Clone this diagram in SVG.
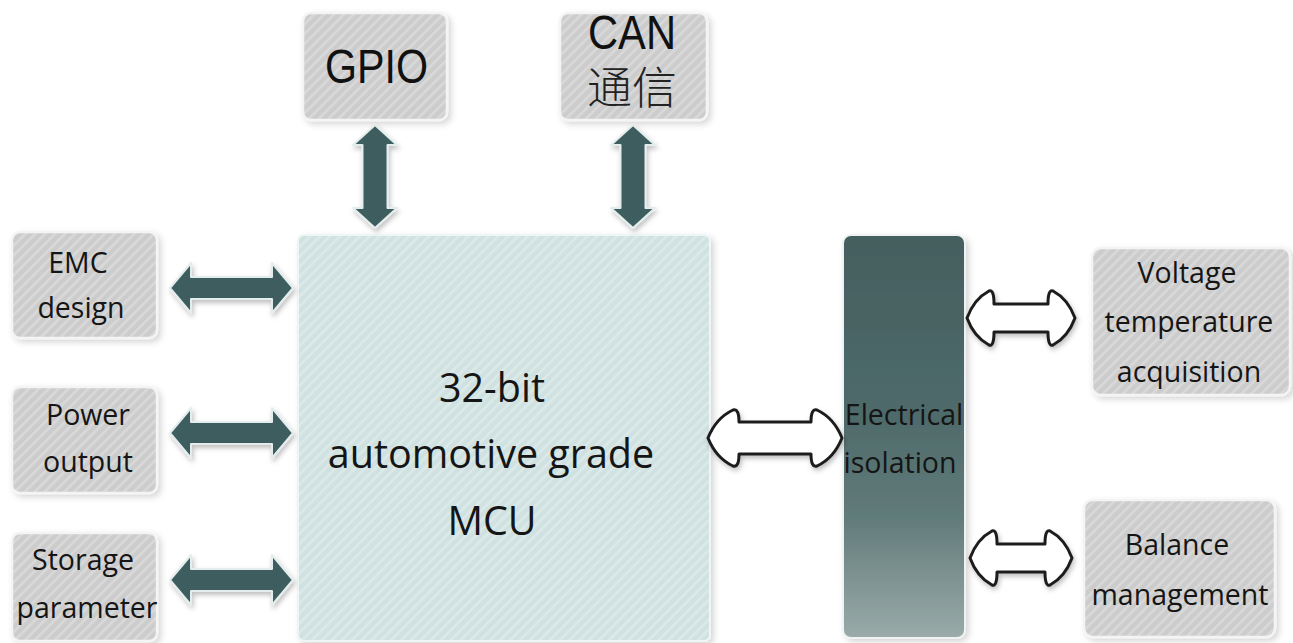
<svg xmlns="http://www.w3.org/2000/svg" width="1293" height="643" viewBox="0 0 1293 643">
  <defs>
    <pattern id="grayStripes" patternUnits="userSpaceOnUse" width="7" height="7" patternTransform="rotate(45)">
      <rect width="7" height="7" fill="#cccccc"/>
      <rect x="0" y="0" width="2.6" height="7" fill="#d9d9d9"/>
    </pattern>
    <pattern id="tealStripes" patternUnits="userSpaceOnUse" width="7" height="7" patternTransform="rotate(45)">
      <rect width="7" height="7" fill="#cfe2e1"/>
      <rect x="0" y="0" width="2.6" height="7" fill="#dce9e8"/>
    </pattern>
    <linearGradient id="isoGrad" x1="0" y1="0" x2="0" y2="1">
      <stop offset="0" stop-color="#445e5f"/>
      <stop offset="0.45" stop-color="#4f6a6a"/>
      <stop offset="0.7" stop-color="#617b7a"/>
      <stop offset="1" stop-color="#9aaba9"/>
    </linearGradient>
    <filter id="boxShadow" x="-10%" y="-10%" width="125%" height="125%">
      <feDropShadow dx="3" dy="3" stdDeviation="3" flood-color="#000" flood-opacity="0.16"/>
    </filter>
    <filter id="arrowShadow" x="-20%" y="-30%" width="140%" height="170%">
      <feDropShadow dx="1.5" dy="3" stdDeviation="2.5" flood-color="#000" flood-opacity="0.25"/>
    </filter>
  </defs>
  <style>
    .gbox { fill: url(#grayStripes); stroke: #f4f4f4; stroke-width: 2.5; filter: url(#boxShadow); }
    .lbl { font-family: "Open Sans", "Noto Sans", sans-serif; font-size: 28.5px; fill: #151515; text-anchor: middle; }
    .big { font-family: "Open Sans", "Noto Sans", sans-serif; font-size: 39.5px; fill: #151515; text-anchor: middle; }
    .arial { font-family: "Liberation Sans", Arial, sans-serif; font-size: 48px; fill: #111; }
    .cjk { font-family: "Noto Sans CJK SC", "Noto Sans CJK JP", sans-serif; font-size: 44px; font-weight: 300; fill: #222; }
    .darr { fill: #3e5d5e; stroke: #e4eded; stroke-width: 2; stroke-linejoin: round; filter: url(#arrowShadow); }
    .oarr { fill: #ffffff; stroke: #1e1e1e; stroke-width: 3; stroke-linejoin: round; filter: url(#arrowShadow); }
  </style>

  <rect width="1293" height="643" fill="#ffffff"/>

  <g id="gpio">
    <rect class="gbox" x="303" y="13" width="144" height="107" rx="8"/>
    <text class="arial" x="325" y="83" textLength="103" lengthAdjust="spacingAndGlyphs">GPIO</text>
  </g>

  <g id="can">
    <rect class="gbox" x="560" y="13" width="147" height="107" rx="8"/>
    <text class="arial" x="588" y="49" textLength="88" lengthAdjust="spacingAndGlyphs">CAN</text>
    <text class="cjk" x="587" y="104" textLength="90" lengthAdjust="spacingAndGlyphs">通信</text>
  </g>

  <g id="emc">
    <rect class="gbox" x="12" y="232" width="145" height="106" rx="8"/>
    <text class="lbl" x="78" y="273">EMC</text>
    <text class="lbl" x="81" y="318">design</text>
  </g>

  <g id="power">
    <rect class="gbox" x="12" y="387" width="145" height="106" rx="8"/>
    <text class="lbl" x="88" y="425">Power</text>
    <text class="lbl" x="88" y="472">output</text>
  </g>

  <g id="storage">
    <rect class="gbox" x="12" y="533" width="145" height="108" rx="8"/>
    <text class="lbl" x="83" y="570">Storage</text>
    <text class="lbl" x="87" y="618">parameter</text>
  </g>

  <g id="mcu">
    <rect x="298" y="235" width="412" height="406" rx="6" fill="url(#tealStripes)" stroke="#eef5f5" stroke-width="2" filter="url(#boxShadow)"/>
    <text class="big" x="492" y="402">32-bit</text>
    <text class="big" x="491" y="468">automotive grade</text>
    <text class="big" x="492" y="535">MCU</text>
  </g>

  <g id="isolation">
    <rect x="843" y="235" width="122" height="403" rx="8" fill="url(#isoGrad)" stroke="#eef2f2" stroke-width="2" filter="url(#boxShadow)"/>
    <text class="lbl" x="904" y="425" fill="#0e1a1a">Electrical</text>
    <text class="lbl" x="900" y="473" fill="#0e1a1a">isolation</text>
  </g>

  <g id="voltage">
    <rect class="gbox" x="1092" y="248" width="198" height="147" rx="9"/>
    <text class="lbl" x="1187" y="283">Voltage</text>
    <text class="lbl" x="1189" y="332">temperature</text>
    <text class="lbl" x="1189" y="382">acquisition</text>
  </g>

  <g id="balance">
    <rect class="gbox" x="1084" y="500" width="191" height="137" rx="9"/>
    <text class="lbl" x="1177" y="555">Balance</text>
    <text class="lbl" x="1180" y="605">management</text>
  </g>

  <g id="connectors">
    <path class="darr" d="M375,125 L397,145 L387.5,145 L387.5,208 L397,208 L375,228 L353,208 L362.5,208 L362.5,145 L353,145 Z"/>
    <path class="darr" d="M633,125 L655,145 L645.5,145 L645.5,208 L655,208 L633,228 L611,208 L620.5,208 L620.5,145 L611,145 Z"/>
    <path class="darr" d="M170,288 L191,263 L191,277 L272,277 L272,263 L293,288 L272,313 L272,299 L191,299 L191,313 Z"/>
    <path class="darr" d="M170,433 L191,408 L191,422 L272,422 L272,408 L293,433 L272,458 L272,444 L191,444 L191,458 Z"/>
    <path class="darr" d="M170,580 L191,555 L191,569 L272,569 L272,555 L293,580 L272,605 L272,591 L191,591 L191,605 Z"/>
    <path class="oarr" d="M708,438 Q716,418 733,410 Q739,408 739,422 L811,422 Q811,408 817,410 Q834,418 842,438 Q834,458 817,466 Q811,468 811,454 L739,454 Q739,468 733,466 Q716,458 708,438 Z"/>
    <path class="oarr" d="M967,318 Q974,299 989,291 Q994,289 994,304 L1048,304 Q1048,289 1053,291 Q1068,299 1075,318 Q1068,337 1053,345 Q1048,347 1048,332 L994,332 Q994,347 989,345 Q974,337 967,318 Z"/>
    <path class="oarr" d="M970,558 Q977,539 992,531 Q997,529 997,544 L1045,544 Q1045,529 1050,531 Q1065,539 1072,558 Q1065,577 1050,585 Q1045,587 1045,572 L997,572 Q997,587 992,585 Q977,577 970,558 Z"/>
  </g>
</svg>
